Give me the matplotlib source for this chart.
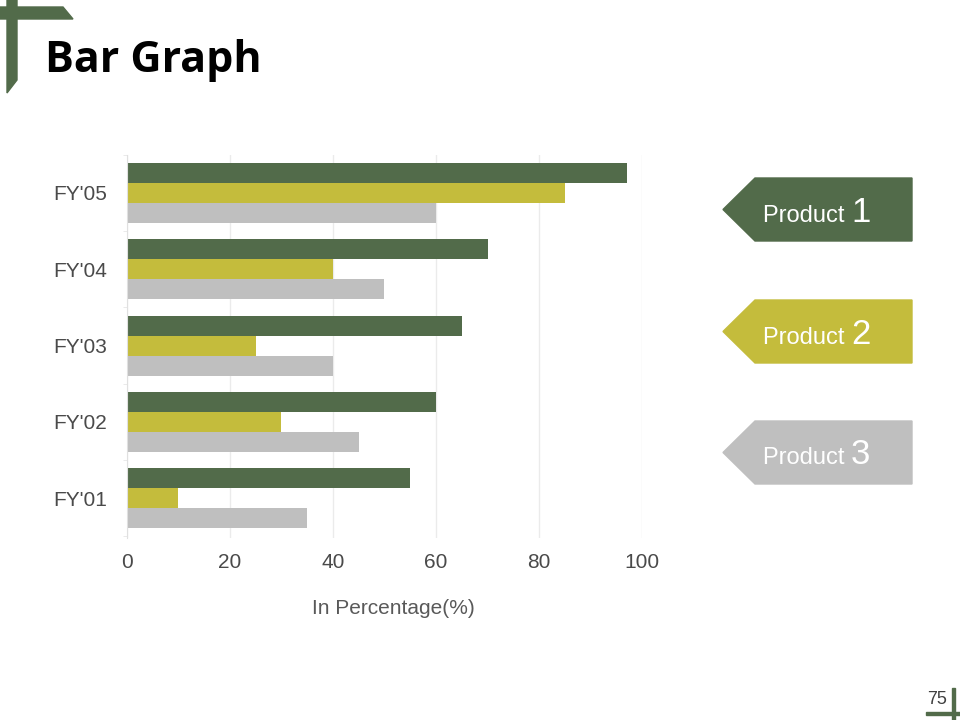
import matplotlib.pyplot as plt
from matplotlib.patches import Polygon
import numpy as np

plt.rcParams['font.family'] = ['Liberation Sans', 'DejaVu Sans']

# data
years = ["FY'01", "FY'02", "FY'03", "FY'04", "FY'05"]
product1 = [55, 60, 65, 70, 97]
product2 = [10, 30, 25, 40, 85]
product3 = [35, 45, 40, 50, 60]
series_names = ["Product 1", "Product 2", "Product 3"]
colors = ["#526B4A", "#C4BC3C", "#BFBFBF"]
ticks = [0, 20, 40, 60, 80, 100]

fig = plt.figure(figsize=(9.6, 7.2), dpi=100)
fig.patch.set_facecolor("white")

# chart
ax = fig.add_axes([0.132, 0.253, 0.537, 0.532])
y = np.arange(len(years))
h = 0.262
for k, vals in enumerate([product1, product2, product3]):
    ax.barh(y + (1 - k) * h, vals, height=h, color=colors[k], zorder=2)

ax.set_xlim(0, 100)
ax.set_ylim(-0.52, 4.5)
ax.set_xticks(ticks)
ax.set_xticklabels([str(t) for t in ticks])
ax.set_yticks(y)
ax.set_yticklabels(years)
ax.set_yticks(np.arange(-0.5, 5, 1), minor=True)
ax.tick_params(axis='both', which='major', length=0, labelsize=15, colors="#4A4A4A")
ax.tick_params(axis='y', which='major', pad=14)
ax.tick_params(axis='x', which='major', pad=11)
ax.tick_params(axis='y', which='minor', length=3, color="#E6E6E6")
ax.grid(axis='x', color="#EBEBEB", linewidth=1, zorder=0)
for s in ['top', 'right', 'bottom']:
    ax.spines[s].set_visible(False)
ax.spines['left'].set_color("#E0E0E0")
ax.set_xlabel("In Percentage(%)", fontsize=15, color="#595959", labelpad=19)
ax.xaxis.label.set_x(0.517)

# overlay for decorations in pixel coordinates
ov = fig.add_axes([0, 0, 1, 1], zorder=-1)
ov.set_xlim(0, 960)
ov.set_ylim(720, 0)
ov.axis('off')

green = "#526B4A"
ov.add_patch(Polygon([(7, 0), (17, 0), (17, 80), (7, 93)], closed=True, color=green))
ov.add_patch(Polygon([(0, 7), (63, 7), (73, 19), (0, 19)], closed=True, color=green))
ov.add_patch(Polygon([(952, 688), (955, 688), (955, 720), (952, 720)], closed=True, color=green))
ov.add_patch(Polygon([(926, 712), (960, 712), (960, 715), (926, 715)], closed=True, color=green))

ov.text(45, 61, "Bar Graph", fontsize=31, fontweight='bold', family=['Open Sans', 'DejaVu Sans'],
        color="black", va='center', ha='left')
ov.text(937, 700, "75", fontsize=13, color="#404040", ha='center', va='center')

# legend arrows
tops = [178, 300, 421]
for name, c, t in zip(series_names, colors, tops):
    b = t + 63
    mid = (t + b) / 2
    ov.add_patch(Polygon([(723, mid), (755, t), (912, t), (912, b), (755, b)],
                         closed=True, color=c))
    word, num = name.split()
    tx = ov.text(763, mid + 12, word + " ", fontsize=17, color="white", ha='left', va='baseline')
    fig.canvas.draw()
    bb = tx.get_window_extent()
    x1 = ov.transData.inverted().transform((bb.x1, bb.y0))[0]
    ov.text(x1, mid + 12, num, fontsize=25, color="white", ha='left', va='baseline')

fig.savefig("out.png", dpi=100, facecolor="white")
